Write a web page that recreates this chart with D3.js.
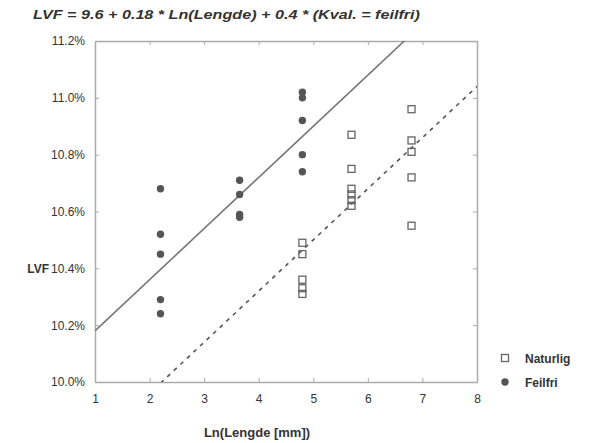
<!DOCTYPE html>
<html>
<head>
<meta charset="utf-8">
<script src="https://cdnjs.cloudflare.com/ajax/libs/d3/7.8.5/d3.min.js"></script>
<style>
  body { margin: 0; background: #fff; }
  text { font-family: "Liberation Sans", Arial, sans-serif; fill: #333; }
</style>
</head>
<body>
<div id="chart"></div>
<script>
// data
var xTicks = [1, 2, 3, 4, 5, 6, 7, 8]
var yTicks = [10.0, 10.2, 10.4, 10.6, 10.8, 11.0, 11.2]

// Feilfri (filled circles)
var feilfriX = [2.2, 2.2, 2.2, 2.2, 2.2, 3.65, 3.65, 3.65, 3.65, 4.8, 4.8, 4.8, 4.8, 4.8]
var feilfriY = [10.68, 10.52, 10.45, 10.29, 10.24, 10.71, 10.66, 10.59, 10.58, 11.02, 11.00, 10.92, 10.80, 10.74]

// Naturlig (open squares)
var naturligX = [4.8, 4.8, 4.8, 4.8, 4.8, 5.7, 5.7, 5.7, 5.7, 5.7, 5.7, 6.8, 6.8, 6.8, 6.8, 6.8]
var naturligY = [10.49, 10.45, 10.36, 10.33, 10.31, 10.87, 10.75, 10.68, 10.66, 10.64, 10.62, 10.96, 10.85, 10.81, 10.72, 10.55]

// fitted model: LVF = 9.6 + 0.18 * Ln(Lengde) + 0.4 * (Kval. = feilfri)
var intercept = 9.6, slope = 0.18, feilfriShift = 0.4

var width = 595, height = 443
var margin = {top: 41, right: 118, bottom: 61, left: 95}

var svg = d3.select("#chart").append("svg")
    .attr("width", width)
    .attr("height", height)

var x = d3.scaleLinear().domain([1, 8]).range([margin.left, width - margin.right])
var y = d3.scaleLinear().domain([10.0, 11.2]).range([height - margin.bottom, margin.top])

svg.append("defs").append("clipPath").attr("id", "plotclip")
  .append("rect")
    .attr("x", x(1)).attr("y", y(11.2))
    .attr("width", x(8) - x(1)).attr("height", y(10.0) - y(11.2))

// axes with inward ticks on all four sides
function styleAxis(g) {
    g.select(".domain").attr("stroke", "#aaa").attr("stroke-width", 1.5)
    g.selectAll(".tick line").attr("stroke", "#aaa").attr("stroke-width", 1)
    g.selectAll("text").attr("fill", "#333").style("font-size", "12px")
        .style("font-family", "Liberation Sans, Arial, sans-serif")
}

svg.append("g")
    .attr("transform", `translate(0,${y(10.0)})`)
    .call(d3.axisBottom(x).tickValues(xTicks).tickFormat(d3.format("d"))
        .tickSizeInner(-4).tickSizeOuter(0).tickPadding(12))
    .call(styleAxis)

svg.append("g")
    .attr("transform", `translate(0,${y(11.2)})`)
    .call(d3.axisTop(x).tickValues(xTicks).tickFormat("")
        .tickSizeInner(-4).tickSizeOuter(0))
    .call(styleAxis)

svg.append("g")
    .attr("transform", `translate(${x(1)},0)`)
    .call(d3.axisLeft(y).tickValues(yTicks).tickFormat(d => d.toFixed(1) + "%")
        .tickSizeInner(-4).tickSizeOuter(0).tickPadding(10))
    .call(styleAxis)

svg.append("g")
    .attr("transform", `translate(${x(8)},0)`)
    .call(d3.axisRight(y).tickValues(yTicks).tickFormat("")
        .tickSizeInner(-4).tickSizeOuter(0))
    .call(styleAxis)

// regression lines
var plot = svg.append("g").attr("clip-path", "url(#plotclip)")
var line = d3.line().x(d => x(d[0])).y(d => y(d[1]))

plot.append("path")
    .attr("d", line([[1, intercept + slope + feilfriShift], [8, intercept + slope * 8 + feilfriShift]]))
    .attr("fill", "none").attr("stroke", "#777").attr("stroke-width", 1.6)

plot.append("path")
    .attr("d", line([[1, intercept + slope], [8, intercept + slope * 8]]))
    .attr("fill", "none").attr("stroke", "#555").attr("stroke-width", 1.6)
    .attr("stroke-dasharray", "4,5")

// points
var nat = naturligX.map((d, i) => ({x: d, y: naturligY[i]}))
var fei = feilfriX.map((d, i) => ({x: d, y: feilfriY[i]}))

svg.selectAll(".nat").data(nat).enter().append("rect")
    .attr("class", "nat")
    .attr("x", d => x(d.x) - 3.5).attr("y", d => y(d.y) - 3.5)
    .attr("width", 7).attr("height", 7)
    .attr("fill", "none").attr("stroke", "#666").attr("stroke-width", 1.3)

svg.selectAll(".fei").data(fei).enter().append("circle")
    .attr("class", "fei")
    .attr("cx", d => x(d.x)).attr("cy", d => y(d.y))
    .attr("r", 3.7)
    .attr("fill", "#555")

// title
svg.append("text")
    .attr("x", 33).attr("y", 19)
    .style("font-size", "13px").style("font-style", "italic").style("font-weight", "bold")
    .attr("fill", "#444")
    .attr("textLength", 387).attr("lengthAdjust", "spacingAndGlyphs")
    .text("LVF = 9.6 + 0.18 * Ln(Lengde) + 0.4 * (Kval. = feilfri)")

// axis titles (LVF sits horizontally beside the axis, as in the original)
svg.append("text")
    .attr("x", 49).attr("y", y(10.4) + 4.5)
    .attr("text-anchor", "end")
    .style("font-size", "12px").style("font-weight", "bold")
    .text("LVF")

svg.append("text")
    .attr("x", 257).attr("y", 437)
    .attr("text-anchor", "middle")
    .style("font-size", "13px").style("font-weight", "bold")
    .text("Ln(Lengde [mm])")

// legend
var legend = svg.append("g").attr("transform", "translate(505,358)")
legend.append("rect").attr("x", -3.5).attr("y", -3.5).attr("width", 7).attr("height", 7)
    .attr("fill", "none").attr("stroke", "#666").attr("stroke-width", 1.3)
legend.append("text").attr("x", 20).attr("y", 4.5)
    .style("font-size", "12px").style("font-weight", "bold").text("Naturlig")
legend.append("circle").attr("cx", 0).attr("cy", 24).attr("r", 3.7).attr("fill", "#555")
legend.append("text").attr("x", 20).attr("y", 28.5)
    .style("font-size", "12px").style("font-weight", "bold").text("Feilfri")
</script>
</body>
</html>
